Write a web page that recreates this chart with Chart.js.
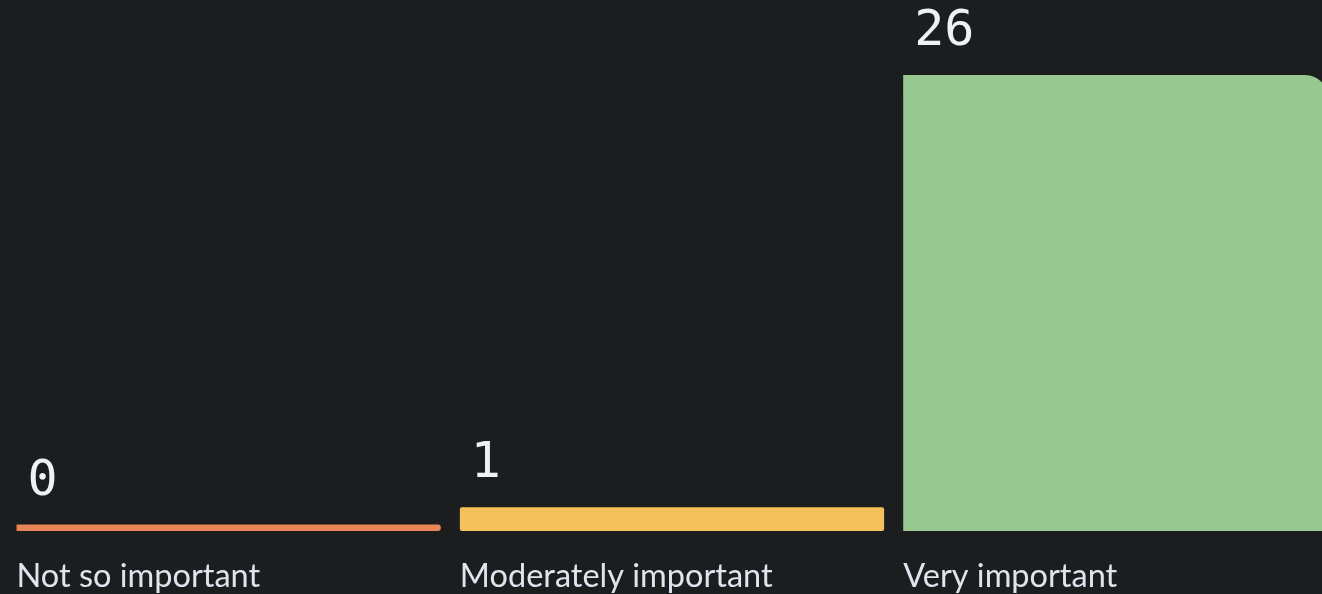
<!DOCTYPE html>
<html>
<head>
<meta charset="utf-8">
<script src="https://cdn.jsdelivr.net/npm/chart.js@4"></script>
<style>
  html, body { margin: 0; padding: 0; background: #1b1d1f; overflow: hidden; }
  #wrap { width: 1345px; height: 594px; }
</style>
</head>
<body>
<div id="wrap"><canvas id="bars"></canvas></div>
<script>
const categories = ["Not so important", "Moderately important", "Very important"];
const answers = [0, 1, 26];
const barColors = ["#ea8656", "#f4c15a", "#97c88f"];

// value labels above the bars + category names under them
const labelPlugin = {
  id: "labels",
  afterDatasetsDraw(chart) {
    const ctx = chart.ctx;
    const meta = chart.getDatasetMeta(0);
    ctx.save();
    meta.data.forEach((bar, i) => {
      const left = bar.x - bar.width / 2;
      ctx.fillStyle = "#eef1f6";
      ctx.textAlign = "left";
      ctx.textBaseline = "alphabetic";
      ctx.font = "50px 'DejaVu Sans Mono'";
      ctx.fillText(String(answers[i]), left + 11, bar.y - 30);
      ctx.font = "32.5px Lato";
      ctx.fillStyle = "#dfe5ee";
      ctx.fillText(categories[i], left, 587);
    });
    ctx.restore();
  }
};

new Chart(document.getElementById("bars"), {
  type: "bar",
  data: {
    labels: categories,
    datasets: [{
      data: answers,
      base: -0.37,
      backgroundColor: barColors,
      borderRadius: [
        { topRight: 3, bottomRight: 3 },
        2,
        { topRight: 22 }
      ],
      borderSkipped: false,
      barPercentage: 0.957,
      categoryPercentage: 1
    }]
  },
  options: {
    responsive: true,
    maintainAspectRatio: false,
    animation: false,
    layout: { padding: { top: 75, bottom: 63, left: 7, right: 8 } },
    plugins: { legend: { display: false }, tooltip: { enabled: false } },
    scales: {
      x: { display: false },
      y: { display: false, min: -0.37, max: 26 }
    }
  },
  plugins: [labelPlugin]
});
</script>
</body>
</html>
